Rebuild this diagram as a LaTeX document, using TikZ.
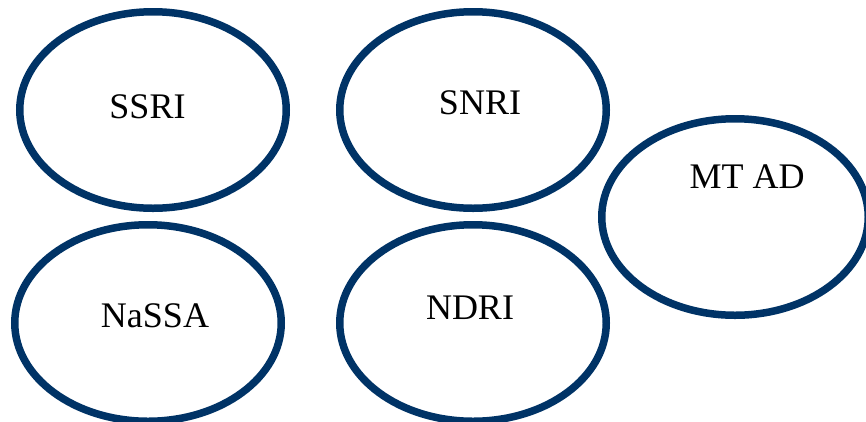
\documentclass[tikz,border=0pt]{standalone}
\usepackage{fontspec}
\setmainfont{Liberation Serif}
\usetikzlibrary{shapes.geometric}
\definecolor{ovalblue}{HTML}{003366}

\begin{document}
\begin{tikzpicture}[x=1pt,y=-1pt,
  oval/.style={ellipse,draw=ovalblue,line width=7.5pt,inner sep=0pt,
  minimum width=266.5pt,minimum height=196.5pt},
  tag/.style={anchor=base,inner sep=0pt,font=\fontsize{36}{40}\selectfont}]
\useasboundingbox (0,0) rectangle (866,421);
\foreach \n/\x/\y in {ssri/153/110,snri/473/110,mtad/735/217,nassa/148/323,ndri/473/323}
  \node[oval] (\n) at (\x,\y) {};
\node[tag] (ssri-t) at (147.5,118) {SSRI};
\node[tag] (snri-t) at (480,114) {SNRI};
\node[tag] (mtad-t) at (747,188) {MT AD};
\node[tag] (nassa-t) at (155,327) {NaSSA};
\node[tag] (ndri-t) at (470,319) {NDRI};
\end{tikzpicture}
\end{document}
